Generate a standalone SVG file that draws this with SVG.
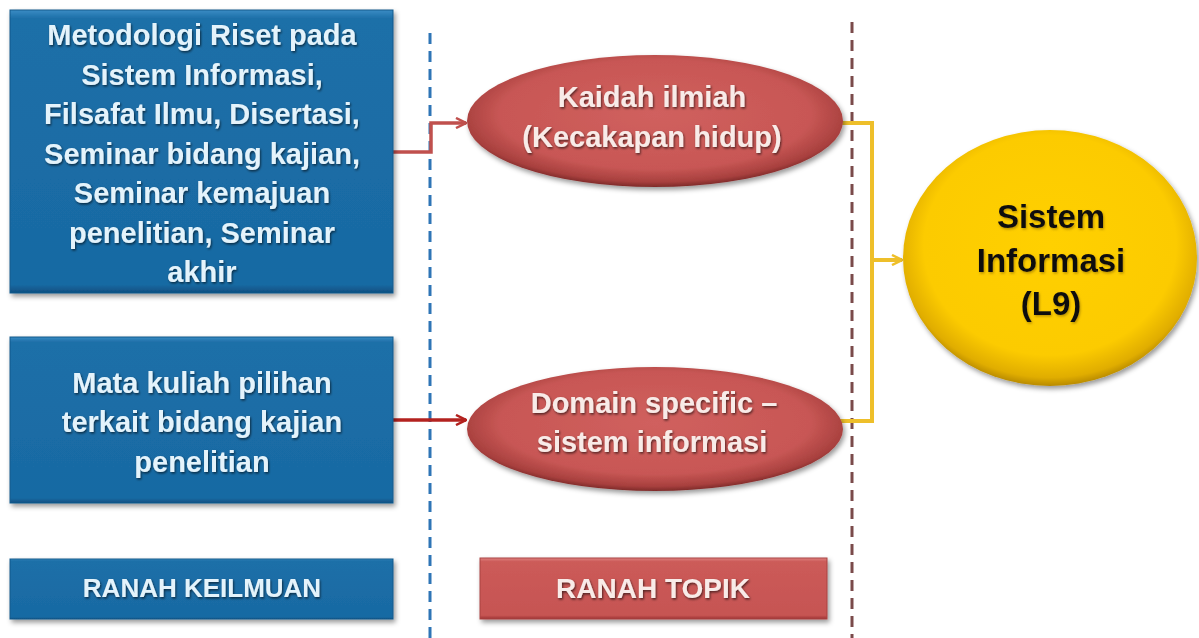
<svg xmlns="http://www.w3.org/2000/svg" width="1199" height="638" viewBox="0 0 1199 638">
  <defs>
    <style>
      .box { fill: url(#blueFill); stroke: #125a8c; stroke-width: 1; filter: url(#shadow); }
      .topic { fill: url(#redBoxFill); stroke: #a94442; stroke-width: 1; filter: url(#shadow); }
      .oval { fill: url(#redOval); filter: url(#shadow); }
      .sun { fill: url(#goldOval); filter: url(#shadow); }
      .t { font-family: "Liberation Sans", Arial, sans-serif; font-weight: bold; font-size: 29px; text-anchor: middle; }
      .tb { fill: #e4f3fb; filter: url(#txtShadow); }
      .tr { fill: #f8ebe8; filter: url(#txtShadow); }
      .tk { fill: #111111; filter: url(#txtGlow); font-size: 33px; }
      .divider-blue { stroke: #2e75b6; stroke-width: 3; stroke-dasharray: 11 7; fill: none; }
      .divider-brown { stroke: #7a4a4a; stroke-width: 3; stroke-dasharray: 11 7; fill: none; }
      .link-red { stroke: #c0504d; stroke-width: 3.5; fill: none; }
      .link-dark { stroke: #b3221f; stroke-width: 3.5; fill: none; }
      .link-gold { stroke: #eebf2a; stroke-width: 4; fill: none; }
    </style>
    <linearGradient id="blueFill" x1="0" y1="0" x2="0" y2="1">
      <stop offset="0" stop-color="#3a8cc4"/>
      <stop offset="0.03" stop-color="#1d6fa8"/>
      <stop offset="0.97" stop-color="#186aa3"/>
      <stop offset="1" stop-color="#0f4f80"/>
    </linearGradient>
    <linearGradient id="redBoxFill" x1="0" y1="0" x2="0" y2="1">
      <stop offset="0" stop-color="#e08280"/>
      <stop offset="0.06" stop-color="#cc5b59"/>
      <stop offset="0.94" stop-color="#c65452"/>
      <stop offset="1" stop-color="#9c3533"/>
    </linearGradient>
    <radialGradient id="redOval" cx="0.5" cy="0.45" r="0.55">
      <stop offset="0" stop-color="#d0605e"/>
      <stop offset="0.75" stop-color="#c85755"/>
      <stop offset="0.93" stop-color="#a8403e"/>
      <stop offset="1" stop-color="#7e2a29"/>
    </radialGradient>
    <radialGradient id="goldOval" cx="0.5" cy="0.45" r="0.55">
      <stop offset="0" stop-color="#ffd000"/>
      <stop offset="0.78" stop-color="#fccb00"/>
      <stop offset="0.94" stop-color="#e0ad00"/>
      <stop offset="1" stop-color="#b88a00"/>
    </radialGradient>
    <filter id="shadow" x="-10%" y="-10%" width="125%" height="130%">
      <feDropShadow dx="2" dy="3" stdDeviation="2.5" flood-color="#000" flood-opacity="0.4"/>
    </filter>
    <filter id="txtShadow" x="-5%" y="-20%" width="115%" height="150%">
      <feDropShadow dx="1" dy="1.5" stdDeviation="1.2" flood-color="#000" flood-opacity="0.6"/>
    </filter>
    <filter id="txtGlow" x="-5%" y="-20%" width="115%" height="150%">
      <feDropShadow dx="1" dy="1.5" stdDeviation="1.2" flood-color="#7a5a00" flood-opacity="0.5"/>
    </filter>
    <marker id="arrowRed" viewBox="0 0 12 12" refX="11" refY="6" markerWidth="12" markerHeight="12" markerUnits="userSpaceOnUse" orient="auto">
      <path d="M1 1 L11 6 L1 11" fill="none" stroke="#c0504d" stroke-width="2.5"/>
    </marker>
    <marker id="arrowDark" viewBox="0 0 12 12" refX="11" refY="6" markerWidth="12" markerHeight="12" markerUnits="userSpaceOnUse" orient="auto">
      <path d="M1 1 L11 6 L1 11" fill="none" stroke="#b3221f" stroke-width="2.5"/>
    </marker>
    <marker id="arrowGold" viewBox="0 0 12 12" refX="11" refY="6" markerWidth="12" markerHeight="12" markerUnits="userSpaceOnUse" orient="auto">
      <path d="M1 1 L11 6 L1 11" fill="none" stroke="#eebf2a" stroke-width="2.5"/>
    </marker>
  </defs>

  <rect width="1199" height="638" fill="#ffffff"/>

  <!-- column dividers -->
  <g id="dividers">
    <line class="divider-blue" x1="430" y1="33" x2="430" y2="638"/>
    <line class="divider-brown" x1="852" y1="22" x2="852" y2="638"/>
  </g>

  <!-- connectors -->
  <g id="connectors">
    <path class="link-red" d="M393 152 H431 V123 H466" marker-end="url(#arrowRed)"/>
    <path class="link-dark" d="M393 420 H466" marker-end="url(#arrowDark)"/>
    <path class="link-gold" d="M842 123 H872 V421 H840"/>
    <path class="link-gold" d="M872 260 H902" marker-end="url(#arrowGold)"/>
  </g>

  <g id="node-metodologi">
    <rect class="box" x="10" y="10" width="383" height="283"/>
    <text class="t tb" x="202" y="45">Metodologi Riset pada</text>
    <text class="t tb" x="202" y="84.5">Sistem Informasi,</text>
    <text class="t tb" x="202" y="124">Filsafat Ilmu, Disertasi,</text>
    <text class="t tb" x="202" y="163.5">Seminar bidang kajian,</text>
    <text class="t tb" x="202" y="203">Seminar kemajuan</text>
    <text class="t tb" x="202" y="242.5">penelitian, Seminar</text>
    <text class="t tb" x="202" y="282">akhir</text>
  </g>

  <g id="node-matakuliah">
    <rect class="box" x="10" y="337" width="383" height="166"/>
    <text class="t tb" x="202" y="393">Mata kuliah pilihan</text>
    <text class="t tb" x="202" y="432">terkait bidang kajian</text>
    <text class="t tb" x="202" y="472">penelitian</text>
  </g>

  <g id="node-ranah-keilmuan">
    <rect class="box" x="10" y="559" width="383" height="60"/>
    <text class="t tb" x="202" y="597" style="font-size:26px">RANAH KEILMUAN</text>
  </g>

  <g id="node-kaidah">
    <ellipse class="oval" cx="655" cy="121" rx="188" ry="66"/>
    <text class="t tr" x="652" y="107">Kaidah ilmiah</text>
    <text class="t tr" x="652" y="147">(Kecakapan hidup)</text>
  </g>

  <g id="node-domain">
    <ellipse class="oval" cx="655" cy="429" rx="188" ry="62"/>
    <text class="t tr" x="654" y="413">Domain specific –</text>
    <text class="t tr" x="652" y="452">sistem informasi</text>
  </g>

  <g id="node-ranah-topik">
    <rect class="topic" x="480" y="558" width="347" height="61"/>
    <text class="t tr" x="653" y="598" style="font-size:28px">RANAH TOPIK</text>
  </g>

  <g id="node-sistem-informasi">
    <ellipse class="sun" cx="1050" cy="258" rx="147" ry="128"/>
    <text class="t tk" x="1051" y="228">Sistem</text>
    <text class="t tk" x="1051" y="272">Informasi</text>
    <text class="t tk" x="1051" y="315">(L9)</text>
  </g>
</svg>
